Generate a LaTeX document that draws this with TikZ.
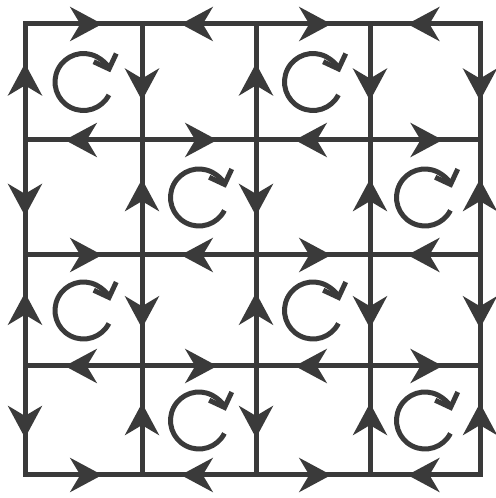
\documentclass[tikz,border=0pt]{standalone}
\usepackage{tikz}
\usetikzlibrary{arrows.meta,calc,decorations.markings}
\definecolor{ink}{RGB}{58,58,58}

\tikzset{
  edge/.style={color=ink, line width=2.5pt, line cap=rect,
    postaction={decorate},
    decoration={markings,
      mark=at position 0.66 with {\arrow{Stealth[length=16pt,width=17pt,inset=5pt]}}}},
  spin/.style={color=ink, line width=2.5pt,
    -{Straight Barb[angle'=90,length=6pt]}}
}

\begin{document}
\begin{tikzpicture}[x=0.5pt,y=0.5pt]
    \useasboundingbox (0,0) rectangle (496,498);

    % lattice sites
    \foreach \c/\x in {0/25,1/142,2/256,3/370,4/480}
      \foreach \r/\y in {0/474,1/358,2/243,3/132,4/23}
        \coordinate (p\c\r) at (\x,\y);

    % horizontal links
    \foreach \c in {0,...,3}
      \foreach \r in {0,...,4} {
        \pgfmathtruncatemacro{\nc}{\c+1}
        \pgfmathtruncatemacro{\sg}{mod(\c+\r,2)}
        \ifnum\sg=0 \draw[edge] (p\c\r) -- (p\nc\r);
        \else \draw[edge] (p\nc\r) -- (p\c\r); \fi
      }

    % vertical links
    \foreach \c in {0,...,4}
      \foreach \r in {0,...,3} {
        \pgfmathtruncatemacro{\nr}{\r+1}
        \pgfmathtruncatemacro{\sg}{mod(\c+\r,2)}
        \ifnum\c=4 \pgfmathtruncatemacro{\sg}{1-\sg}\fi
        \ifnum\sg=0 \draw[edge] (p\c\nr) -- (p\c\r);
        \else \draw[edge] (p\c\r) -- (p\c\nr); \fi
      }

    % clockwise plaquettes
    \foreach \c/\r in {0/0,2/0,1/1,3/1,0/2,2/2,1/3,3/3} {
      \pgfmathtruncatemacro{\nc}{\c+1}
      \pgfmathtruncatemacro{\nr}{\r+1}
      \coordinate (m\c\r) at ($(p\c\r)!0.5!(p\nc\nr)$);
      \draw[spin] ($(m\c\r)+(-27:28.5)$)
        arc[start angle=-27, end angle=-340, radius=28.5];
    }
\end{tikzpicture}
\end{document}
